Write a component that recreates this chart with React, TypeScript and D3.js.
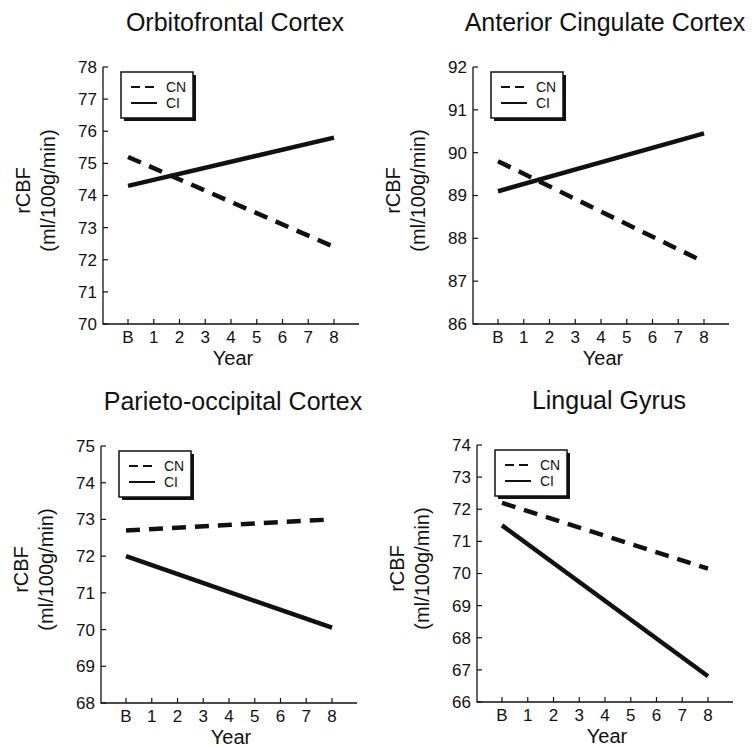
import React from 'react';
import * as d3 from 'd3';

// x categories
const years = ['B', '1', '2', '3', '4', '5', '6', '7', '8'];

// one entry per panel
const titles = ['Orbitofrontal Cortex', 'Anterior Cingulate Cortex', 'Parieto-occipital Cortex', 'Lingual Gyrus'];
const yMins = [70, 86, 68, 66];
const yMaxs = [78, 92, 75, 74];
const cnValues = [[75.2, 72.4], [89.8, 87.45], [72.7, 73.0], [72.2, 70.15]];
const ciValues = [[74.3, 75.8], [89.1, 90.45], [72.0, 70.05], [71.5, 66.8]];
const seriesYears = ['B', '8'];

// plot origins (axis corner at top-left)
const origins = [[103, 67], [473, 67], [101, 446], [477, 445]];
const W = 256;
const H = 257;
const FONT = 'Liberation Sans, Arial, sans-serif';

const Panel = ({ i }: { i: number }) => {
  const [ox, oy] = origins[i];
  const x = d3.scalePoint<string>().domain(years).range([25, 231]);
  const y = d3.scaleLinear().domain([yMins[i], yMaxs[i]]).range([H, 0]);
  const yTicks = d3.range(yMins[i], yMaxs[i] + 1);
  const line = d3.line<number>()
    .x((_, k) => x(seriesYears[k]) as number)
    .y(d => y(d));

  return (
    <g transform={`translate(${ox},${oy})`} fontFamily={FONT} fill="#111">
      <text x={132} y={-36} textAnchor="middle" fontSize={25}>{titles[i]}</text>

      {/* axes */}
      <path d={`M0,0V${H}H${W}`} fill="none" stroke="#111" strokeWidth={1.3} />
      {yTicks.map(t => (
        <g key={t}>
          <line x1={0} x2={5} y1={y(t)} y2={y(t)} stroke="#111" strokeWidth={1.2} />
          <text x={-6} y={y(t)} dy="0.35em" textAnchor="end" fontSize={17}>{t}</text>
        </g>
      ))}
      {years.map(t => (
        <g key={t}>
          <line x1={x(t)} x2={x(t)} y1={H} y2={H - 5} stroke="#111" strokeWidth={1.2} />
          <text x={x(t)} y={H + 19} textAnchor="middle" fontSize={17}>{t}</text>
        </g>
      ))}
      <text x={130} y={H + 41} textAnchor="middle" fontSize={20}>Year</text>
      <g transform={`translate(-80,${H / 2 - 5}) rotate(-90)`}>
        <text textAnchor="middle" dy="0.35em" fontSize={20}>rCBF</text>
      </g>
      <g transform={`translate(-55,${H / 2 - 5}) rotate(-90)`}>
        <text textAnchor="middle" dy="0.35em" fontSize={20}>(ml/100g/min)</text>
      </g>

      {/* series */}
      <path d={line(cnValues[i]) ?? ''} fill="none" stroke="#111" strokeWidth={4.5} strokeDasharray="14,9" />
      <path d={line(ciValues[i]) ?? ''} fill="none" stroke="#111" strokeWidth={4.5} />

      {/* legend */}
      <g transform="translate(18,5)">
        <rect x={3} y={3} width={72} height={46} fill="#111" />
        <rect x={0} y={0} width={72} height={46} fill="#fff" stroke="#111" strokeWidth={1.5} />
        <line x1={10} x2={34} y1={15} y2={15} stroke="#111" strokeWidth={2} strokeDasharray="9,5" />
        <line x1={10} x2={36} y1={31} y2={31} stroke="#111" strokeWidth={2} />
        <text x={45} y={15} dy="0.35em" fontSize={14}>CN</text>
        <text x={45} y={31} dy="0.35em" fontSize={14}>CI</text>
      </g>
    </g>
  );
};

export default function App() {
  return (
    <svg width={753} height={748} style={{ display: 'block', position: 'absolute', left: 0, top: 0, background: '#fff' }}>
      <rect width={753} height={748} fill="#fff" />
      {titles.map((_, i) => <Panel key={i} i={i} />)}
    </svg>
  );
}
